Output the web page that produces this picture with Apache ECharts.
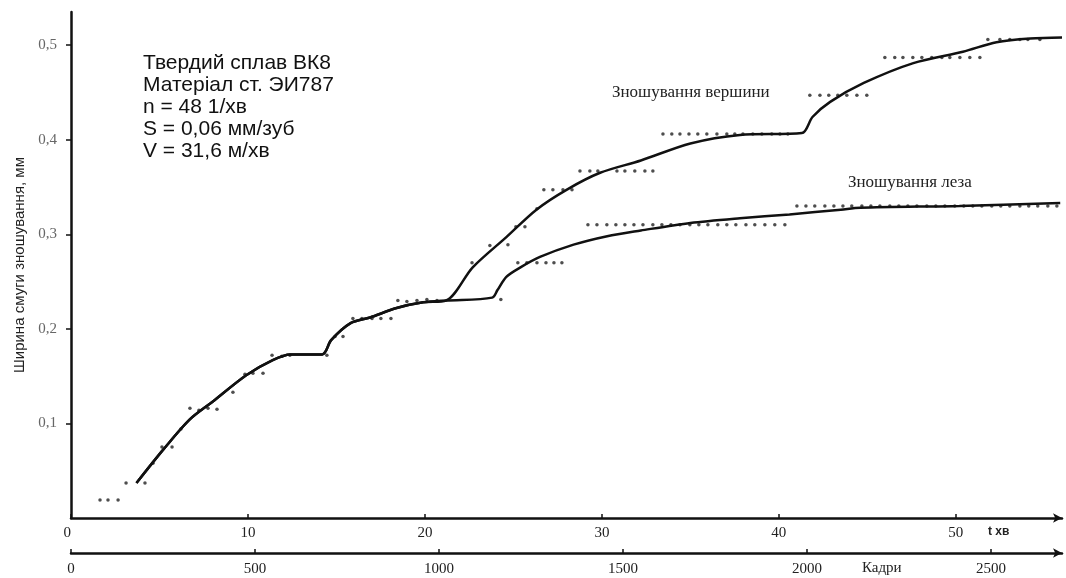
<!DOCTYPE html>
<html>
<head>
<meta charset="utf-8">
<title>Зношування</title>
<script src="https://cdn.jsdelivr.net/npm/echarts@6/dist/echarts.min.js"></script>
<style>
    html, body { margin: 0; padding: 0; background: #fff; }
    #myChart { width: 1066px; height: 578px; }
</style>
</head>
<body>
<div id="myChart"></div>
<script>
    // tick labels
    var tTicks = [0, 10, 20, 30, 40, 50];
    var kadrTicks = [0, 500, 1000, 1500, 2000, 2500];
    var yTicks = [0.1, 0.2, 0.3, 0.4, 0.5];

    // fitted curves, [t хв, ширина мм]
    var commonLine = [[3.7, 0.037], [5.2, 0.072], [6.7, 0.104], [8.0, 0.123], [9.9, 0.151], [11.4, 0.167],
        [12.4, 0.173], [14.2, 0.173], [14.7, 0.188], [15.8, 0.206], [16.9, 0.212], [18.4, 0.222],
        [19.9, 0.228], [21.2, 0.230]];
    var vershLine = [[22.7, 0.265], [24.6, 0.297], [26.3, 0.326], [28.0, 0.347], [29.9, 0.365], [32.2, 0.378],
        [35.0, 0.396], [37.8, 0.405], [41.3, 0.407], [41.9, 0.424], [42.9, 0.440], [44.8, 0.460],
        [47.6, 0.481], [50.4, 0.493], [52.3, 0.503], [54.2, 0.507], [56.0, 0.508]];
    var lezaLine = [[23.8, 0.233], [24.1, 0.241], [24.6, 0.255], [25.4, 0.265], [26.5, 0.276], [28.4, 0.289],
        [30.3, 0.298], [32.2, 0.304], [35.0, 0.312], [37.8, 0.317], [40.6, 0.321], [43.5, 0.326],
        [44.6, 0.328], [50.2, 0.330], [55.9, 0.333]];

    // measured points
    var commonDots = [[1.64, 0.019], [2.09, 0.019], [2.66, 0.019], [3.11, 0.037], [4.18, 0.037], [4.63, 0.058],
        [5.14, 0.075], [5.71, 0.075], [6.21, 0.094], [6.72, 0.116], [7.23, 0.114], [7.74, 0.116], [8.25, 0.115],
        [9.15, 0.133], [9.83, 0.152], [10.28, 0.153], [10.85, 0.153], [11.36, 0.172], [11.92, 0.171],
        [12.37, 0.172], [14.46, 0.172], [14.92, 0.192], [15.37, 0.192], [15.93, 0.211], [16.44, 0.211],
        [17.01, 0.211], [17.51, 0.211], [18.08, 0.211], [18.47, 0.230], [18.98, 0.229], [19.55, 0.230],
        [20.11, 0.231], [20.68, 0.230], [24.29, 0.231]];
    var vershDots = [[22.66, 0.270], [23.67, 0.288], [24.69, 0.289], [25.14, 0.308], [25.65, 0.308], [26.33, 0.327],
        [26.72, 0.347], [27.23, 0.347], [27.80, 0.347], [28.31, 0.347],
        [28.76, 0.367], [29.32, 0.367], [29.77, 0.367], [30.85, 0.367], [31.30, 0.367], [31.86, 0.367],
        [32.43, 0.367], [32.88, 0.367],
        [33.45, 0.406], [33.95, 0.406], [34.41, 0.406], [34.92, 0.406], [35.42, 0.406], [35.93, 0.406],
        [36.50, 0.406], [37.06, 0.406], [37.51, 0.406], [37.97, 0.406], [38.53, 0.406], [39.04, 0.406],
        [39.60, 0.406], [40.06, 0.406], [40.51, 0.406],
        [41.75, 0.447], [42.32, 0.447], [42.82, 0.447], [43.33, 0.447], [43.84, 0.447], [44.41, 0.447],
        [44.97, 0.447],
        [45.99, 0.487], [46.55, 0.487], [47.01, 0.487], [47.57, 0.487], [48.08, 0.487], [48.64, 0.487],
        [49.21, 0.487], [49.66, 0.487], [50.23, 0.487], [50.79, 0.487], [51.36, 0.487],
        [51.81, 0.506], [52.49, 0.506], [53.05, 0.506], [53.62, 0.506], [54.07, 0.506], [54.75, 0.506]];
    var lezaDots = [[25.25, 0.270], [25.76, 0.270], [26.33, 0.270], [26.84, 0.270], [27.29, 0.270], [27.74, 0.270],
        [29.21, 0.310], [29.72, 0.310], [30.28, 0.310], [30.79, 0.310], [31.30, 0.310], [31.81, 0.310],
        [32.32, 0.310], [32.88, 0.310], [33.39, 0.310], [33.90, 0.310], [34.41, 0.310], [34.97, 0.310],
        [35.48, 0.310], [35.99, 0.310], [36.55, 0.310], [37.06, 0.310], [37.57, 0.310], [38.14, 0.310],
        [38.64, 0.310], [39.21, 0.310], [39.77, 0.310], [40.34, 0.310],
        [41.02, 0.330], [41.53, 0.330], [42.03, 0.330], [42.60, 0.330], [43.11, 0.330], [43.62, 0.330],
        [44.12, 0.330], [44.69, 0.330], [45.20, 0.330], [45.71, 0.330], [46.27, 0.330], [46.78, 0.330],
        [47.29, 0.330], [47.80, 0.330], [48.36, 0.330], [48.87, 0.330], [49.38, 0.330], [49.94, 0.330],
        [50.45, 0.330], [50.96, 0.330], [51.47, 0.330], [52.03, 0.330], [52.54, 0.330], [53.05, 0.330],
        [53.62, 0.330], [54.12, 0.330], [54.63, 0.330], [55.20, 0.330], [55.71, 0.330]];

    var serif = '"Liberation Serif", "DejaVu Serif", serif';
    var sans = '"Liberation Sans", Arial, sans-serif';

    var myChart = echarts.init(document.getElementById('myChart'));

    function plain(v) {
        return String(v);
    }

    myChart.setOption({
        animation: false,
        grid: {left: 71, right: 4, top: 12, bottom: 60, containLabel: false},

        xAxis: [{
            type: 'value',
            min: 0,
            max: 56,
            position: 'bottom',
            axisLine: {show: true, onZero: false, symbol: ['none', 'arrow'], symbolSize: [7, 9],
                lineStyle: {color: '#111', width: 2.5}},
            axisTick: {show: true, inside: true, length: 4, customValues: tTicks,
                lineStyle: {color: '#111', width: 1.5}},
            axisLabel: {customValues: tTicks, margin: 8, alignMinLabel: 'right', formatter: plain,
                fontFamily: serif, fontSize: 15, color: '#222'},
            splitLine: {show: false}
        }, {
            type: 'value',
            min: 0,
            max: 2693,
            position: 'bottom',
            offset: 35,
            axisLine: {show: true, onZero: false, symbol: ['none', 'arrow'], symbolSize: [7, 9],
                lineStyle: {color: '#111', width: 2.5}},
            axisTick: {show: true, inside: true, length: 4, customValues: kadrTicks,
                lineStyle: {color: '#111', width: 1.5}},
            axisLabel: {customValues: kadrTicks, margin: 9, formatter: plain,
                fontFamily: serif, fontSize: 15, color: '#222'},
            splitLine: {show: false}
        }],

        yAxis: {
            type: 'value',
            min: 0,
            max: 0.535,
            name: 'Ширина смуги зношування, мм',
            nameLocation: 'middle',
            nameRotate: 90,
            nameGap: 44,
            nameTextStyle: {fontFamily: sans, fontSize: 15, color: '#222'},
            axisLine: {lineStyle: {color: '#111', width: 2.5}},
            axisTick: {show: true, length: 5, customValues: yTicks,
                lineStyle: {color: '#111', width: 1.5}},
            axisLabel: {customValues: yTicks, margin: 14, fontFamily: serif, fontSize: 15, color: '#666',
                formatter: function (v) {
                    return v.toFixed(1).replace('.', ',');
                }},
            splitLine: {show: false}
        },

        graphic: [{
            type: 'text',
            left: 143,
            top: 52,
            style: {
                text: 'Твердий сплав ВК8\nМатеріал ст. ЭИ787\nn = 48 1/хв\nS = 0,06 мм/зуб\nV = 31,6 м/хв',
                font: '21px ' + sans,
                lineHeight: 22,
                fill: '#111'
            }
        }, {
            type: 'text',
            left: 612,
            top: 84,
            style: {text: 'Зношування вершини', font: '17px ' + serif, fill: '#222'}
        }, {
            type: 'text',
            left: 848,
            top: 174,
            style: {text: 'Зношування леза', font: '17px ' + serif, fill: '#222'}
        }, {
            type: 'text',
            left: 988,
            top: 526,
            style: {text: 't хв', font: 'bold 12px ' + sans, fill: '#222'}
        }, {
            type: 'text',
            left: 862,
            top: 561,
            style: {text: 'Кадри', font: '15px ' + serif, fill: '#222'}
        }],

        series: [{
            name: 'Зношування вершини',
            type: 'line',
            data: commonLine.concat(vershLine),
            smooth: 0.3,
            showSymbol: false,
            lineStyle: {color: '#111', width: 2.5}
        }, {
            name: 'Зношування леза',
            type: 'line',
            data: commonLine.concat(lezaLine),
            smooth: 0.3,
            showSymbol: false,
            lineStyle: {color: '#111', width: 2.5}
        }, {
            type: 'scatter',
            data: commonDots.concat(vershDots, lezaDots),
            symbol: 'circle',
            symbolSize: 3.5,
            itemStyle: {color: '#222'}
        }]
    });
</script>
</body>
</html>
